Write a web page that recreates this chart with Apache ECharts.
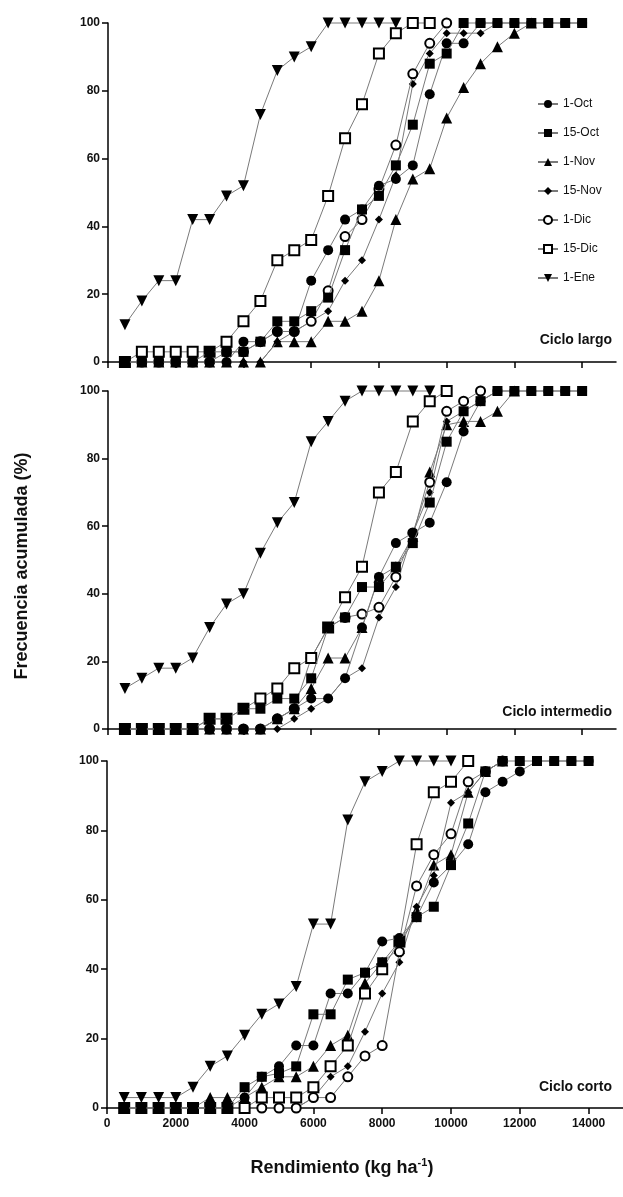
<!DOCTYPE html>
<html>
<head>
<meta charset="utf-8">
<script src="https://cdn.jsdelivr.net/npm/echarts@6/dist/echarts.min.js"></script>
<style>
  html, body { margin: 0; padding: 0; background: #fff; }
  #chart { width: 623px; height: 1197px; }
</style>
</head>
<body>
<div id="chart"></div>
<script>
// yield classes (kg/ha) and axis ticks
const yieldKg = [500, 1000, 1500, 2000, 2500, 3000, 3500, 4000, 4500, 5000, 5500, 6000, 6500, 7000,
  7500, 8000, 8500, 9000, 9500, 10000, 10500, 11000, 11500, 12000, 12500, 13000, 13500, 14000];
const xTicks = [0, 2000, 4000, 6000, 8000, 10000, 12000, 14000];
const sowingDates = ["1-Oct", "15-Oct", "1-Nov", "15-Nov", "1-Dic", "15-Dic", "1-Ene"];
const panelNames = ["Ciclo largo", "Ciclo intermedio", "Ciclo corto"];

// Ciclo largo (cumulative %)
const largo1Oct = [0, 0, 0, 0, 0, 0, 0, 6, 6, 9, 9, 24, 33, 42, 45, 52, 54, 58, 79, 94, 94, 100, 100, 100, 100, 100, 100, 100];
const largo15Oct = [0, 0, 0, 0, 0, 3, 3, 3, 6, 12, 12, 15, 19, 33, 45, 49, 58, 70, 88, 91, 100, 100, 100, 100, 100, 100, 100, 100];
const largo1Nov = [0, 0, 0, 0, 0, 0, 0, 0, 0, 6, 6, 6, 12, 12, 15, 24, 42, 54, 57, 72, 81, 88, 93, 97, 100];
const largo15Nov = [0, 0, 0, 0, 0, 0, 0, 0, 0, 6, 9, 12, 15, 24, 30, 42, 55, 82, 91, 97, 97, 97, 100];
const largo1Dic = [0, 0, 0, 0, 0, 0, 3, 3, 6, 9, 9, 12, 21, 37, 42, 51, 64, 85, 94, 100];
const largo15Dic = [0, 3, 3, 3, 3, 3, 6, 12, 18, 30, 33, 36, 49, 66, 76, 91, 97, 100, 100];
const largo1Ene = [11, 18, 24, 24, 42, 42, 49, 52, 73, 86, 90, 93, 100, 100, 100, 100, 100];

// Ciclo intermedio
const inter1Oct = [0, 0, 0, 0, 0, 0, 0, 0, 0, 3, 6, 9, 9, 15, 30, 45, 55, 58, 61, 73, 88, 97, 100, 100, 100, 100, 100, 100];
const inter15Oct = [0, 0, 0, 0, 0, 3, 3, 6, 6, 9, 9, 15, 30, 33, 42, 42, 48, 55, 67, 85, 94, 97, 100, 100, 100, 100, 100, 100];
const inter1Nov = [0, 0, 0, 0, 0, 0, 0, 0, 0, 3, 6, 12, 21, 21, 30, 45, 48, 57, 76, 90, 91, 91, 94, 100];
const inter15Nov = [0, 0, 0, 0, 0, 0, 0, 0, 0, 0, 3, 6, 9, 15, 18, 33, 42, 58, 70, 91, 94, 97, 100];
const inter1Dic = [0, 0, 0, 0, 0, 0, 0, 0, 0, 3, 6, 21, 30, 33, 34, 36, 45, 58, 73, 94, 97, 100];
const inter15Dic = [0, 0, 0, 0, 0, 3, 3, 6, 9, 12, 18, 21, 30, 39, 48, 70, 76, 91, 97, 100];
const inter1Ene = [12, 15, 18, 18, 21, 30, 37, 40, 52, 61, 67, 85, 91, 97, 100, 100, 100, 100, 100];

// Ciclo corto
const corto1Oct = [0, 0, 0, 0, 0, 0, 0, 3, 9, 12, 18, 18, 33, 33, 39, 48, 49, 55, 65, 70, 76, 91, 94, 97, 100, 100, 100, 100];
const corto15Oct = [0, 0, 0, 0, 0, 0, 0, 6, 9, 10, 12, 27, 27, 37, 39, 42, 48, 55, 58, 70, 82, 97, 100, 100, 100, 100, 100, 100];
const corto1Nov = [0, 0, 0, 0, 0, 3, 3, 3, 6, 9, 9, 12, 18, 21, 36, 42, 46, 57, 70, 73, 91, 97, 100];
const corto15Nov = [0, 0, 0, 0, 0, 0, 0, 0, 0, 0, 0, 3, 9, 12, 22, 33, 42, 58, 67, 88, 91, 97, 100];
const corto1Dic = [0, 0, 0, 0, 0, 0, 0, 0, 0, 0, 0, 3, 3, 9, 15, 18, 45, 64, 73, 79, 94, 97, 100];
const corto15Dic = [0, 0, 0, 0, 0, 0, 0, 0, 3, 3, 3, 6, 12, 18, 33, 40, 48, 76, 91, 94, 100];
const corto1Ene = [3, 3, 3, 3, 6, 12, 15, 21, 27, 30, 35, 53, 53, 83, 94, 97, 100, 100, 100, 100];

const panels = [
  [largo1Oct, largo15Oct, largo1Nov, largo15Nov, largo1Dic, largo15Dic, largo1Ene],
  [inter1Oct, inter15Oct, inter1Nov, inter15Nov, inter1Dic, inter15Dic, inter1Ene],
  [corto1Oct, corto15Oct, corto1Nov, corto15Nov, corto1Dic, corto15Dic, corto1Ene],
];

const FONT = '"Liberation Sans", Arial, sans-serif';
const INK = "#111";

// marker per sowing date; z keeps the filled squares on top like the original
const markers = [
  { symbol: "circle", size: 10, fill: "#000", open: false, rotate: 0, z: 9 },
  { symbol: "rect", size: 10, fill: "#000", open: false, rotate: 0, z: 10 },
  { symbol: "triangle", size: 11, fill: "#000", open: false, rotate: 0, z: 4 },
  { symbol: "diamond", size: 8, fill: "#000", open: false, rotate: 0, z: 5 },
  { symbol: "circle", size: 9, fill: "#fff", open: true, rotate: 0, z: 6 },
  { symbol: "rect", size: 10, fill: "#fff", open: true, rotate: 0, z: 7 },
  { symbol: "triangle", size: 11, fill: "#000", open: false, rotate: 180, z: 8 },
];

const gridBoxes = [
  { left: 108, top: 23, width: 508, height: 339 },
  { left: 108, top: 391, width: 508, height: 338 },
  { left: 107, top: 761, width: 516, height: 347 },
];

const chart = echarts.init(document.getElementById("chart"), null, { renderer: "canvas" });

const grids = [];
const xAxes = [];
const yAxes = [];
const series = [];

gridBoxes.forEach((box, p) => {
  grids.push(Object.assign({ containLabel: false }, box));
  xAxes.push({
    type: "value",
    gridIndex: p,
    min: 0,
    max: 15000,
    interval: 2000,
    axisLine: { show: true, onZero: false, lineStyle: { color: "#000", width: 1.5 } },
    axisTick: { show: true, inside: false, length: 6, customValues: xTicks, lineStyle: { color: "#000", width: 1.5 } },
    axisLabel: {
      show: p === 2,
      customValues: xTicks,
      formatter: (v) => String(v),
      margin: 10,
      color: INK,
      fontFamily: FONT,
      fontWeight: "bold",
      fontSize: 12,
    },
    splitLine: { show: false },
  });
  yAxes.push({
    type: "value",
    gridIndex: p,
    min: 0,
    max: 100,
    interval: 20,
    axisLine: { show: true, lineStyle: { color: "#000", width: 1.5 } },
    axisTick: { show: true, inside: false, length: 6, lineStyle: { color: "#000", width: 1.5 } },
    axisLabel: { margin: 8, color: INK, fontFamily: FONT, fontWeight: "bold", fontSize: 12 },
    splitLine: { show: false },
  });

  panels[p].forEach((vals, j) => {
    const m = markers[j];
    series.push({
      name: sowingDates[j],
      type: "line",
      xAxisIndex: p,
      yAxisIndex: p,
      data: vals.map((v, i) => [yieldKg[i], v]),
      symbol: m.symbol,
      symbolSize: m.size,
      symbolRotate: m.rotate,
      showAllSymbol: true,
      clip: false,
      itemStyle: { color: m.fill, borderColor: "#000", borderWidth: m.open ? 2 : 0, opacity: 1 },
      lineStyle: { color: "#7a7a7a", width: 1 },
      emphasis: { disabled: true },
      z: m.z,
    });
  });
});

const labelY = [340, 712, 1087];
const graphics = panelNames.map((name, p) => ({
  type: "text",
  x: 612,
  y: labelY[p],
  style: {
    text: name,
    textAlign: "right",
    textVerticalAlign: "middle",
    font: "bold 14px " + FONT,
    fill: INK,
  },
}));

graphics.push({
  type: "text",
  x: 22,
  y: 566,
  rotation: Math.PI / 2,
  style: {
    text: "Frecuencia acumulada (%)",
    textAlign: "center",
    textVerticalAlign: "middle",
    font: "bold 18px " + FONT,
    fill: INK,
  },
});

graphics.push({
  type: "text",
  x: 342,
  y: 1168,
  style: {
    text: "{n|Rendimiento (kg ha}{s|-1}{n|)}",
    textAlign: "center",
    textVerticalAlign: "middle",
    fill: INK,
    rich: {
      n: { fontFamily: FONT, fontSize: 18, fontWeight: "bold", color: INK, lineHeight: 22 },
      s: { fontFamily: FONT, fontSize: 11, fontWeight: "bold", color: INK, verticalAlign: "top", lineHeight: 22, padding: [0, 0, 10, 0] },
    },
  },
});

chart.setOption({
  animation: false,
  backgroundColor: "#fff",
  grid: grids,
  xAxis: xAxes,
  yAxis: yAxes,
  legend: {
    data: sowingDates,
    orient: "vertical",
    left: 532,
    top: 93,
    itemWidth: 20,
    itemHeight: 10,
    itemGap: 17,
    selectedMode: false,
    textStyle: { fontFamily: FONT, fontSize: 12, color: INK },
  },
  graphic: graphics,
  series: series,
});
</script>
</body>
</html>
